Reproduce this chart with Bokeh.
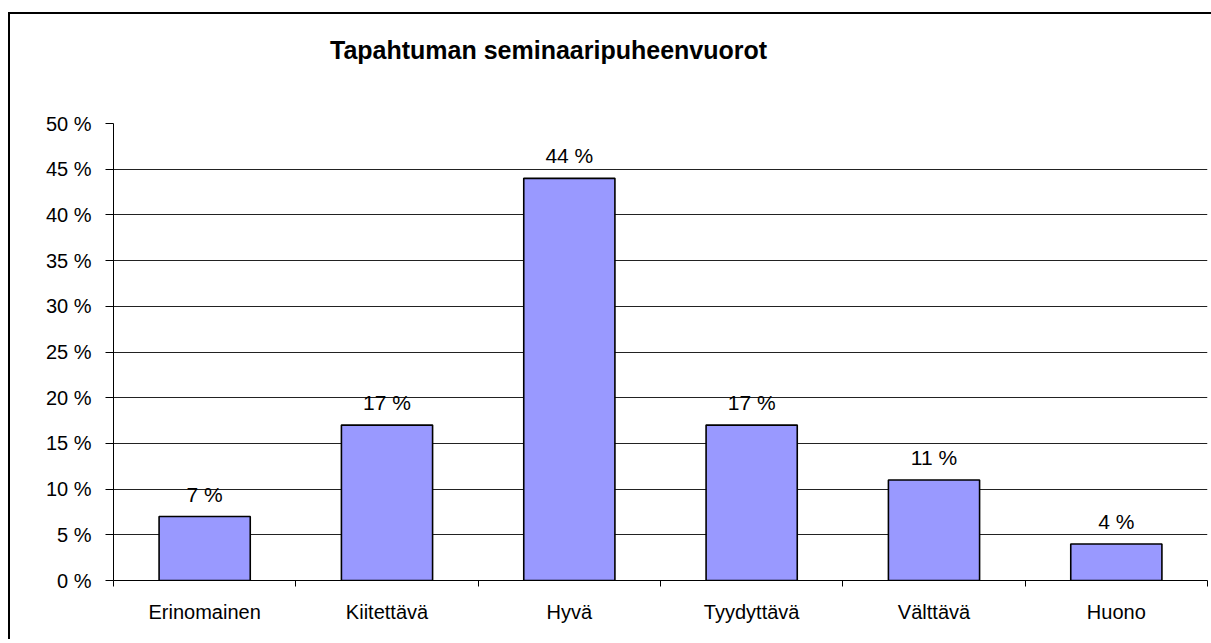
from bokeh.plotting import figure
from bokeh.layouts import column
from bokeh.models import ColumnDataSource, LabelSet, FixedTicker, PrintfTickFormatter, Range1d, Div
from bokeh.core.properties import value
from bokeh.embed import file_html
from bokeh.resources import INLINE

title_text = "Tapahtuman seminaaripuheenvuorot"
categories = ["Erinomainen", "Kiitettävä", "Hyvä", "Tyydyttävä", "Välttävä", "Huono"]
values = [7, 17, 44, 17, 11, 4]
value_labels = ["7 %", "17 %", "44 %", "17 %", "11 %", "4 %"]
y_ticks = [0, 5, 10, 15, 20, 25, 30, 35, 40, 45, 50]

FONT = "Liberation Sans"
n = len(categories)
xs = [i + 0.5 for i in range(n)]

src = ColumnDataSource(dict(x=xs, top=values, label=value_labels))

W = 1207

title_div = Div(
    text=('<div style="font-family:\'Liberation Sans\';font-size:25px;font-weight:bold;'
          'line-height:29px;color:black;padding-left:320px;padding-top:22px;white-space:nowrap;">'
          + title_text + '</div>'),
    width=W, height=70)
title_div.margin = (0, 0, 0, 0)

p = figure(width=W, height=557, output_backend="svg", toolbar_location=None,
           x_range=Range1d(0, n), y_range=Range1d(0, 50),
           min_border_left=103, min_border_right=10, min_border_top=39, min_border_bottom=61)
p.margin = (0, 0, 0, 0)
p.outline_line_color = None
p.background_fill_color = "white"
p.border_fill_color = "white"

p.vbar(x="x", top="top", width=0.5, bottom=0, source=src,
       fill_color="#9999FF", line_color="black", line_width=1.6)

p.xgrid.grid_line_color = None
p.ygrid.grid_line_color = "#222222"
p.ygrid.grid_line_width = 1
p.ygrid.ticker = FixedTicker(ticks=y_ticks)

# y axis
p.yaxis.ticker = FixedTicker(ticks=y_ticks)
p.yaxis.formatter = PrintfTickFormatter(format="%d %%")
p.yaxis.major_tick_out = 8
p.yaxis.major_tick_in = 0
p.yaxis.minor_tick_out = 0
p.yaxis.minor_tick_in = 0
p.yaxis.axis_line_color = "black"
p.yaxis.major_tick_line_color = "black"
p.yaxis.major_label_text_font = FONT
p.yaxis.major_label_text_font_size = "20px"
p.yaxis.major_label_text_color = "black"
p.yaxis.major_label_standoff = 14

# x axis
p.xaxis.ticker = FixedTicker(ticks=xs, minor_ticks=list(range(n + 1)))
p.xaxis.major_label_overrides = {x: c for x, c in zip(xs, categories)}
p.xaxis.major_tick_out = 0
p.xaxis.major_tick_in = 0
p.xaxis.minor_tick_out = 6
p.xaxis.minor_tick_in = 0
p.xaxis.minor_tick_line_color = "black"
p.xaxis.axis_line_color = "black"
p.xaxis.major_label_text_font = FONT
p.xaxis.major_label_text_font_size = "20px"
p.xaxis.major_label_text_color = "black"
p.xaxis.major_label_standoff = 14

labels = LabelSet(x="x", y="top", text="label", source=src, text_align="center",
                  text_baseline="alphabetic", y_offset=15,
                  text_font=value(FONT), text_font_size=value("21px"), text_color="black")
p.add_layout(labels)

layout = column(title_div, p, spacing=0)
layout.margin = (14, 0, 0, 10)
layout.styles = {"box-shadow": "-2px -2px 0 0 black", "background-color": "white",
                 "overflow": "hidden"}

open("out.html", "w").write(file_html(layout, INLINE))
